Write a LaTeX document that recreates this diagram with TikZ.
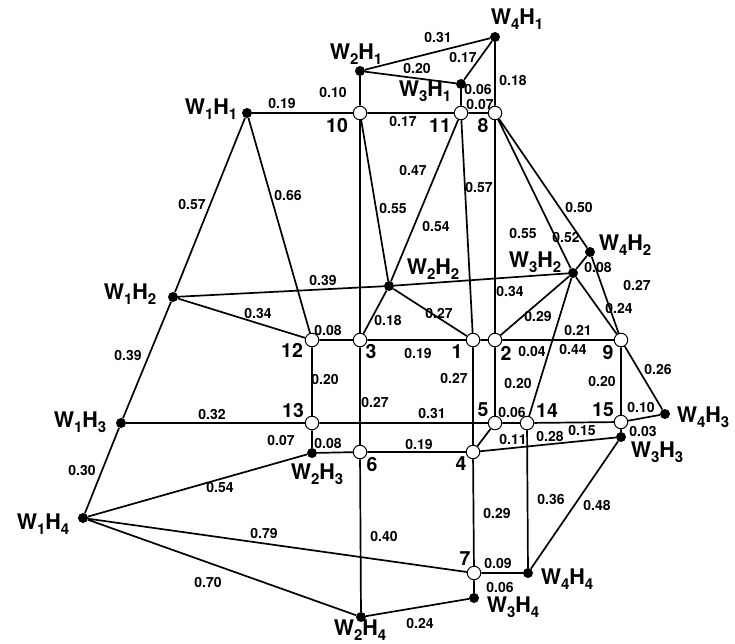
\documentclass[tikz,border=0pt]{standalone}
\usepackage{fontspec}
\setmainfont{TeX Gyre Heros}
\newcommand{\whlab}[2]{W\lower5.5pt\hbox{\fontsize{15}{15}\selectfont#1}H\lower5.5pt\hbox{\fontsize{15}{15}\selectfont#2}}
\pgfdeclarelayer{bg}
\pgfsetlayers{bg,main}
\tikzset{
  wn/.style={circle,fill=black,inner sep=0pt,minimum size=10pt},
  on/.style={circle,draw=black,fill=white,line width=1pt,inner sep=0pt,minimum size=13.5pt},
  el/.style={font=\fontsize{14}{14}\selectfont\bfseries,inner sep=0pt},
  nl/.style={font=\fontsize{19.5}{19.5}\selectfont\bfseries,inner sep=0pt},
  wl/.style={font=\fontsize{21.5}{21.5}\selectfont\bfseries,inner sep=0pt},
  ln/.style={line width=1.7pt,draw=black}
}
\begin{document}
\begin{tikzpicture}[x=1pt,y=-1pt]
\useasboundingbox (0,0) rectangle (735,644);
% W nodes
\node[wn] (w41) at (495,37) {};
\node[wn] (w21) at (360,71) {};
\node[wn] (w31) at (461,84) {};
\node[wn] (w11) at (247,113) {};
\node[wn] (w12) at (173,297) {};
\node[wn] (w22) at (389,286) {};
\node[wn] (w32) at (573,273) {};
\node[wn] (w42) at (590,252) {};
\node[wn] (w13) at (121,423) {};
\node[wn] (w43) at (665,414) {};
\node[wn] (w33) at (621,437) {};
\node[wn] (w23) at (312,453) {};
\node[wn] (w14) at (83,518) {};
\node[wn] (w44) at (528,573) {};
\node[wn] (w34) at (474,598) {};
\node[wn] (w24) at (361,617) {};
% numbered nodes
\node[on] (n10) at (360,113) {};
\node[on] (n11) at (461,113) {};
\node[on] (n8) at (495,113) {};
\node[on] (n12) at (312,340) {};
\node[on] (n3) at (360,340) {};
\node[on] (n1) at (473,340) {};
\node[on] (n2) at (495,340) {};
\node[on] (n9) at (621,340) {};
\node[on] (n13) at (312,423) {};
\node[on] (n5) at (495,423) {};
\node[on] (n14) at (527,423) {};
\node[on] (n15) at (621,422) {};
\node[on] (n6) at (360,452) {};
\node[on] (n4) at (473,452) {};
\node[on] (n7) at (474,573) {};
% edges
\begin{pgfonlayer}{bg}
\draw[ln] (w21)--(w41) (w21)--(w31) (w31)--(w41) (w31)--(n11) (w41)--(n8)
 (w21)--(n10) (w11)--(n10) (n10)--(n11) (n11)--(n8)
 (w11)--(w12) (w11)--(n12) (n10)--(n3) (n10)--(w22) (n11)--(w22) (n11)--(n1)
 (n8)--(n2) (n8)--(w32) (n8)--(w42)
 (w12)--(w22) (w22)--(w32) (w12)--(n12) (w22)--(n3) (w22)--(n1)
 (n12)--(n3) (n3)--(n1) (n1)--(n2) (n2)--(n9)
 (w32)--(n2) (w32)--(n14) (w32)--(n9) (w42)--(n9) (w32)--(w42)
 (n9)--(n15) (n9)--(w43) (n15)--(w43) (n15)--(w33)
 (n12)--(n13) (n13)--(w23) (w13)--(n13) (n13)--(n5) (n5)--(n14) (n14)--(n15)
 (n2)--(n5) (n1)--(n4) (n5)--(n4) (n4)--(w33) (w23)--(n6) (n6)--(n4) (n3)--(n6)
 (w12)--(w13) (w13)--(w14) (w14)--(w23) (w14)--(n7) (w14)--(w24)
 (n6)--(w24) (n4)--(n7) (n14)--(w44) (w33)--(w44) (n7)--(w44) (n7)--(w34) (w34)--(w24);
\end{pgfonlayer}
% W labels
\node[wl] (lw41) at (517,19) {\whlab41};
\node[wl] (lw21) at (356,54) {\whlab21};
\node[wl] (lw31) at (425,91) {\whlab31};
\node[wl] (lw11) at (211,109) {\whlab11};
\node[wl] (lw12) at (130,294) {\whlab12};
\node[wl] (lw22) at (433,269) {\whlab22};
\node[wl] (lw32) at (535,262) {\whlab32};
\node[wl] (lw42) at (625,245) {\whlab42};
\node[wl] (lw13) at (80,422) {\whlab13};
\node[wl] (lw23) at (317,474) {\whlab23};
\node[wl] (lw43) at (703,417) {\whlab43};
\node[wl] (lw33) at (657,452) {\whlab33};
\node[wl] (lw14) at (43,524) {\whlab14};
\node[wl] (lw44) at (567,579) {\whlab44};
\node[wl] (lw34) at (513,607) {\whlab34};
\node[wl] (lw24) at (360,630) {\whlab24};
% number labels
\node[nl] (l10) at (337,126) {10};
\node[nl] (l11) at (440,126) {11};
\node[nl] (l8) at (483,126) {8};
\node[nl] (l12) at (292,350) {12};
\node[nl] (l3) at (371,352) {3};
\node[nl] (l1) at (457,352) {1};
\node[nl] (l2) at (506,353) {2};
\node[nl] (l9) at (608,353) {9};
\node[nl] (l13) at (293,411) {13};
\node[nl] (l5) at (483,410) {5};
\node[nl] (l14) at (547,411) {14};
\node[nl] (l15) at (603,410) {15};
\node[nl] (l6) at (372,465) {6};
\node[nl] (l4) at (461,464) {4};
\node[nl] (l7) at (465,559) {7};
% edge labels
\node[el] (e1) at (438,37) {0.31};
\node[el] (e2) at (463,57) {0.17};
\node[el] (e3) at (417,68) {0.20};
\node[el] (e4) at (478,89) {0.06};
\node[el] (e5) at (513,80) {0.18};
\node[el] (e6) at (333,92) {0.10};
\node[el] (e7) at (282,103) {0.19};
\node[el] (e8) at (480,104) {0.07};
\node[el] (e9) at (403,121) {0.17};
\node[el] (e10) at (192,204) {0.57};
\node[el] (e11) at (288,195) {0.66};
\node[el] (e12) at (323,280) {0.39};
\node[el] (e13) at (258,313) {0.34};
\node[el] (e14) at (328,330) {0.08};
\node[el] (e15) at (413,170) {0.47};
\node[el] (e16) at (479,187) {0.57};
\node[el] (e17) at (393,208) {0.55};
\node[el] (e18) at (436,226) {0.54};
\node[el] (e19) at (510,291) {0.34};
\node[el] (e20) at (439,313) {0.27};
\node[el] (e21) at (388,320) {0.18};
\node[el] (e22) at (579,207) {0.50};
\node[el] (e23) at (523,233) {0.55};
\node[el] (e24) at (566,237) {0.52};
\node[el] (e25) at (598,267) {0.08};
\node[el] (e26) at (637,285) {0.27};
\node[el] (e27) at (619,308) {0.24};
\node[el] (e28) at (538,316) {0.29};
\node[el] (e29) at (578,330) {0.21};
\node[el] (e30) at (418,353) {0.19};
\node[el] (e31) at (532,351) {0.04};
\node[el] (e32) at (573,349) {0.44};
\node[el] (e33) at (658,369) {0.26};
\node[el] (e34) at (454,378) {0.27};
\node[el] (e35) at (518,383) {0.20};
\node[el] (e36) at (602,381) {0.20};
\node[el] (e37) at (325,379) {0.20};
\node[el] (e38) at (375,402) {0.27};
\node[el] (e39) at (432,413) {0.31};
\node[el] (e40) at (512,412) {0.06};
\node[el] (e41) at (641,407) {0.10};
\node[el] (e42) at (643,431) {0.03};
\node[el] (e43) at (582,430) {0.15};
\node[el] (e44) at (550,436) {0.28};
\node[el] (e45) at (513,439) {0.11};
\node[el] (e46) at (419,444) {0.19};
\node[el] (e47) at (328,443) {0.08};
\node[el] (e48) at (281,440) {0.07};
\node[el] (e49) at (128,355) {0.39};
\node[el] (e50) at (212,414) {0.32};
\node[el] (e51) at (82,470) {0.30};
\node[el] (e52) at (220,487) {0.54};
\node[el] (e53) at (551,499) {0.36};
\node[el] (e54) at (597,505) {0.48};
\node[el] (e55) at (497,513) {0.29};
\node[el] (e56) at (264,533) {0.79};
\node[el] (e57) at (384,536) {0.40};
\node[el] (e58) at (208,582) {0.70};
\node[el] (e59) at (498,563) {0.09};
\node[el] (e60) at (500,587) {0.06};
\node[el] (e61) at (420,623) {0.24};
\end{tikzpicture}
\end{document}
